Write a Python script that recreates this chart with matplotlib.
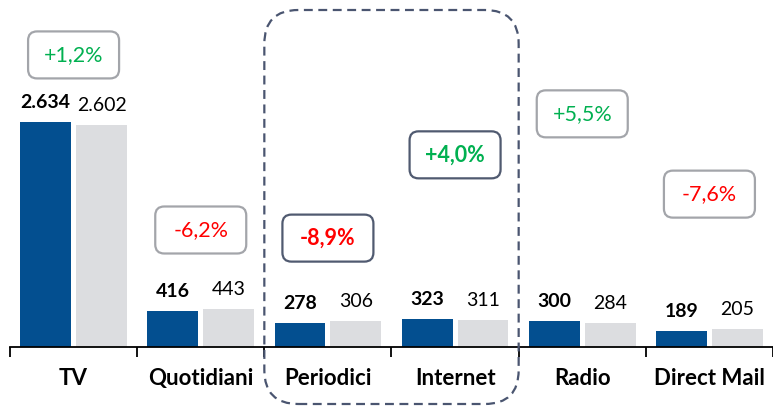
import matplotlib.pyplot as plt
import numpy as np
from matplotlib.patches import FancyBboxPatch
from matplotlib.transforms import IdentityTransform

plt.rcParams['font.family'] = ['Lato', 'DejaVu Sans']

categories = ["TV", "Quotidiani", "Periodici", "Internet", "Radio", "Direct Mail"]
current = [2634, 416, 278, 323, 300, 189]
previous = [2602, 443, 306, 311, 284, 205]
current_labels = ["2.634", "416", "278", "323", "300", "189"]
previous_labels = ["2.602", "443", "306", "311", "284", "205"]
changes = ["+1,2%", "-6,2%", "-8,9%", "+4,0%", "+5,5%", "-7,6%"]
highlight = [False, False, True, True, False, False]

# where the change boxes sit (data y of box centre)
box_y = [3420, 1370, 1275, 2250, 2730, 1790]

BLUE = "#034f90"
GREY = "#dcdde0"
GREEN = "#00b050"
RED = "#ff0000"

fig = plt.figure(figsize=(7.73, 4.08), dpi=100)
ax = fig.add_axes([10 / 773, 1 - 347 / 408, 1 - 10 / 773, 347 / 408])

x = np.arange(len(categories))
off = 0.22
w = 0.4
ax.bar(x - off, current, w, color=BLUE, zorder=2)
ax.bar(x + off, previous, w, color=GREY, zorder=2)

ax.set_xlim(-0.5, len(categories) - 0.5)
ax.set_ylim(0, 4063)

for i in range(len(categories)):
    ax.annotate(current_labels[i], (x[i] - off, current[i]), xytext=(0, 8),
                textcoords="offset points", ha="center", va="bottom",
                fontsize=14, fontweight="bold", color="black")
    ax.annotate(previous_labels[i], (x[i] + off, previous[i]), xytext=(0, 8),
                textcoords="offset points", ha="center", va="bottom",
                fontsize=14, color="black")

for s in ["top", "right", "left"]:
    ax.spines[s].set_visible(False)
ax.spines["bottom"].set_linewidth(1.3)
ax.set_yticks([])
ax.set_xticks(x)
ax.set_xticklabels(categories, fontsize=16, fontweight="bold")
ax.tick_params(axis="x", which="major", length=0, pad=15)
ax.set_xticks(np.arange(-0.5, len(categories), 1.0), minor=True)
ax.tick_params(axis="x", which="minor", length=7, width=1.3, direction="out")

fig.canvas.draw()
H = fig.bbox.height

# change boxes
bw, bh = 91, 47
for i in range(len(categories)):
    cx, cy = ax.transData.transform((x[i], box_y[i]))
    ec = "#505a70" if highlight[i] else "#a3a5aa"
    p = FancyBboxPatch((cx - bw / 2, cy - bh / 2), bw, bh,
                       boxstyle="round,pad=0,rounding_size=9",
                       transform=IdentityTransform(), fc="white", ec=ec,
                       lw=1.6, zorder=3)
    fig.add_artist(p)
    col = GREEN if changes[i].startswith("+") else RED
    fig.text(cx / fig.bbox.width, cy / H, changes[i], ha="center", va="center",
             fontsize=15.5, color=col,
             fontweight="bold" if highlight[i] else "normal", zorder=4)

# dashed frame around Periodici and Internet
x0, _ = ax.transData.transform((1.5, 0))
x1, _ = ax.transData.transform((3.5, 0))
frame = FancyBboxPatch((x0, H - 404), x1 - x0, 394,
                       boxstyle="round,pad=0,rounding_size=34",
                       transform=IdentityTransform(), fc="none", ec="#4a5570",
                       lw=1.6, ls=(0, (4, 2.5)), zorder=5)
fig.add_artist(frame)

fig.savefig("out.png", dpi=100)
